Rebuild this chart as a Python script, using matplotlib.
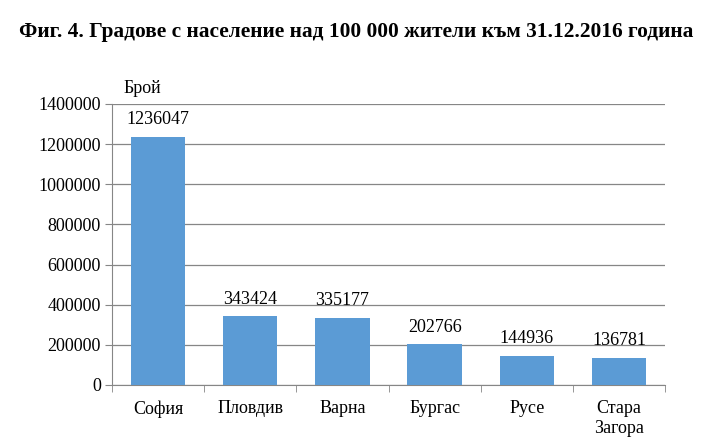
import matplotlib.pyplot as plt
import numpy as np

cities = ["София", "Пловдив", "Варна", "Бургас", "Русе", "Стара\nЗагора"]
population = [1236047, 343424, 335177, 202766, 144936, 136781]
yticks = np.arange(0, 1400001, 200000)

plt.rcParams['font.family'] = ['Liberation Serif', 'DejaVu Serif']

fig = plt.figure(figsize=(7.13, 4.42), dpi=100)
ax = fig.add_axes([0.157, 0.129, 0.776, 0.636])

x = np.arange(len(cities))
bars = ax.bar(x, population, width=0.59, color='#5B9BD5', zorder=3)
for xi, v in zip(x, population):
    ax.text(xi, v + 42000, str(v), ha='center', va='bottom', fontsize=13)

ax.set_xlim(-0.5, len(cities) - 0.5)
ax.set_ylim(0, 1400000)
ax.set_yticks(yticks)
ax.set_yticklabels([str(t) for t in yticks], fontsize=13)
ax.set_xticks(x)
ax.set_xticklabels(cities, fontsize=13, linespacing=1.2)
ax.set_xticks(np.arange(-0.5, len(cities)), minor=True)
ax.tick_params(axis='x', which='major', length=0, pad=11)
ax.tick_params(axis='x', which='minor', length=5, color='#868686')
ax.tick_params(axis='y', length=5, color='#868686', pad=3)

ax.grid(axis='y', color='#868686', linewidth=0.9, zorder=0)
for s in ['top', 'right']:
    ax.spines[s].set_visible(False)
for s in ['left', 'bottom']:
    ax.spines[s].set_color('#868686')

fig.text(0.157 + 0.016, 0.80, "Брой", fontsize=13, ha='left', va='center')
fig.text(0.5, 0.927, "Фиг. 4. Градове с население над 100 000 жители към 31.12.2016 година",
         fontsize=15.4, fontweight='bold', ha='center', va='center')

fig.savefig('out.png', dpi=100)
